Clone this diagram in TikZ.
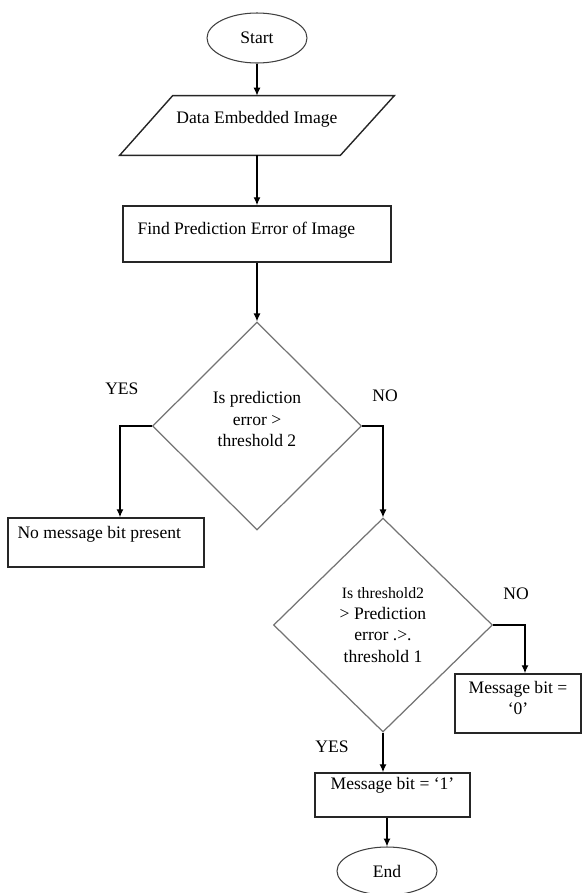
\documentclass[tikz,border=0pt]{standalone}
\usepackage{fontspec}
\setmainfont{Liberation Serif}
\usetikzlibrary{shapes.geometric,positioning,arrows.meta}

\tikzset{
  term/.style={draw=black!75, ellipse, minimum width=2cm, minimum height=1cm, line width=0.6pt},
  io/.style={rectangle, minimum width=5.48cm, minimum height=1.18cm},
  iobox/.style={draw=black!85, line width=0.8pt, line join=miter},
  proc/.style={draw=black!85, rectangle, line width=0.9pt},
  decide/.style={draw=black!55, diamond, align=center, inner sep=1pt, line width=0.7pt},
  txt/.style={inner sep=0pt, align=center},
  flow/.style={->, line width=0.7pt},
}

\begin{document}
\begin{tikzpicture}[node distance=1.5cm, on grid, >={Latex[length=4.5pt,width=4pt]}]
  \useasboundingbox (-5.14,0.76) rectangle (6.50,-17.10);

  \node[term] (start) {Start};
  \node[io, below=1.75cm of start,
    label={[txt, anchor=north, yshift=-0.3cm]north:Data Embedded Image}] (data) {};
  \draw[iobox] ([xshift=1.06cm]data.north west) -- (data.north east)
    -- ([xshift=-1.08cm]data.south east) -- (data.south west) -- cycle;
  \node[proc, minimum width=5.36cm, minimum height=1.12cm, below=2.17cm of data,
    label={[txt, anchor=north west, xshift=0.3cm, yshift=-0.34cm]north west:Find Prediction Error of Image}] (find) {};

  \node[decide, minimum width=4.18cm, minimum height=4.16cm, below=3.84cm of find] (dec1)
    {Is prediction\\error >\\threshold 2\\[-4pt]};
  \node[proc, minimum width=3.92cm, minimum height=0.98cm, below left=2.33cm and 3.02cm of dec1,
    label={[txt, anchor=north west, xshift=0.2cm, yshift=-0.18cm]north west:No message bit present}] (nomsg) {};

  \node[decide, minimum width=4.38cm, minimum height=4.28cm, below right=3.98cm and 2.52cm of dec1] (dec2)
    {{\fontsize{9}{10}\selectfont Is threshold2}\\> Prediction\\error .>.\\threshold 1};
  \node[proc, minimum width=2.52cm, minimum height=1.18cm, below right=1.57cm and 2.70cm of dec2,
    label={[txt, anchor=north, yshift=-0.16cm]north:Message bit =\\‘0’}] (msg0) {};
  \node[proc, minimum width=3.1cm, minimum height=0.88cm, below right=3.40cm and 0.19cm of dec2,
    label={[txt, anchor=north, yshift=-0.1cm]north:Message bit = ‘1’}] (msg1) {};
  \node[term, minimum height=0.96cm, below left=1.52cm and 0.11cm of msg1] (end) {End};

  % branch labels
  \node (yes1) at ([shift={(-0.6cm,0.74cm)}]dec1.west) {YES};
  \node (no1) at ([shift={(0.46cm,0.6cm)}]dec1.east) {NO};
  \node (no2) at ([shift={(0.46cm,0.62cm)}]dec2.east) {NO};
  \node (yes2) at ([shift={(-1.02cm,-0.28cm)}]dec2.south) {YES};

  \draw[flow] (start) -- (data);
  \draw[flow] (data) -- (find);
  \draw[flow] (find) -- (dec1);
  \draw[flow] (dec1.west) -| ([xshift=0.28cm]nomsg.north);
  \draw[flow] (dec1.east) -| (dec2.north);
  \draw[flow] (dec2.east) -| ([xshift=0.14cm]msg0.north);
  \draw[flow] (dec2.south) -- (dec2.south |- msg1.north);
  \draw[flow] (end.north |- msg1.south) -- (end.north);
\end{tikzpicture}
\end{document}
